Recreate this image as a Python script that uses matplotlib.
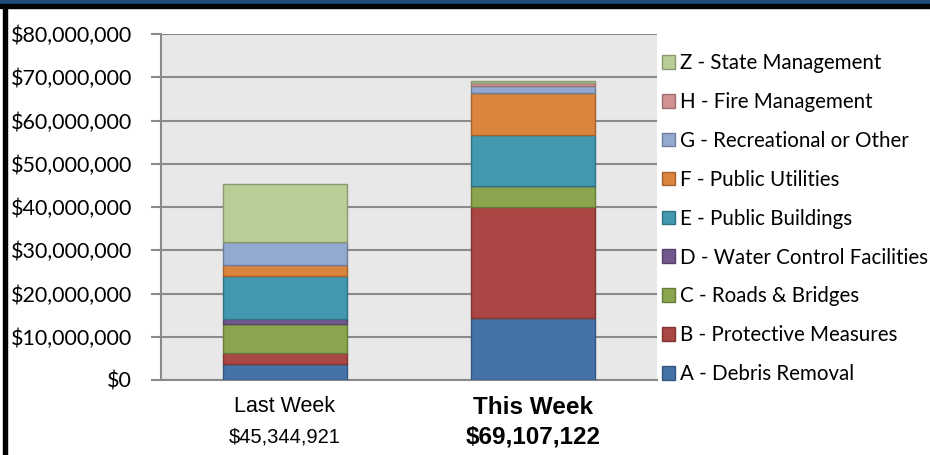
"""Stacked bar chart: project worksheet totals by category, last week vs this week"""

# Imports
import matplotlib
matplotlib.use("Agg")
import matplotlib.pyplot as plt
import matplotlib.colors as mcolors
from matplotlib.patches import Rectangle
from matplotlib.ticker import FuncFormatter, MultipleLocator

# Data (millions of dollars)
weeks = ["Last Week", "This Week"]
week_totals = ["$45,344,921", "$69,107,122"]
categories = ["A - Debris Removal", "B - Protective Measures", "C - Roads & Bridges",
              "D - Water Control Facilities", "E - Public Buildings", "F - Public Utilities",
              "G - Recreational or Other", "H - Fire Management", "Z - State Management"]
last_week = [3.7, 2.6, 6.6, 1.2, 9.9, 2.6, 5.4, 0.0, 13.3]
this_week = [14.4, 25.6, 4.9, 0.05, 11.8, 9.6, 1.7, 0.6, 0.5]
colors = ["#4572A7", "#AA4643", "#89A54E", "#71588F", "#4198AF",
          "#DB843D", "#93A9CF", "#D19392", "#B9CD96"]

# Fonts
TICK_FONT = "Lato"
LABEL_FONT = "Liberation Sans"


def darker(c, f=0.75):
    r, g, b = mcolors.to_rgb(c)
    return (r * f, g * f, b * f)


fig = plt.figure(figsize=(9.3, 4.55), dpi=100)
W, H = 930, 455
ax = fig.add_axes([161 / W, 1 - 380 / H, 496 / W, 346 / H])
ax.set_facecolor("#E8E8E8")

# Frame decorations
fig.patches.append(Rectangle((0, 451 / H), 1, 4 / H, transform=fig.transFigure,
                             color="#1F4A7C", zorder=0))
fig.patches.append(Rectangle((0, 447 / H), 1, 4 / H, transform=fig.transFigure,
                             color="black", zorder=0))
fig.patches.append(Rectangle((3 / W, 0), 4 / W, 447 / H, transform=fig.transFigure,
                             color="black", zorder=0))

# Stacked bars
x = [0, 1]
bottoms = [0.0, 0.0]
for i, cat in enumerate(categories):
    vals = [last_week[i] * 1e6, this_week[i] * 1e6]
    ax.bar(x, vals, width=0.5, bottom=bottoms, color=colors[i],
           edgecolor=darker(colors[i]), linewidth=1, label=cat, zorder=3)
    bottoms = [bottoms[0] + vals[0], bottoms[1] + vals[1]]

ax.set_xlim(-0.5, 1.5)
ax.set_ylim(0, 80e6)
ax.yaxis.set_major_locator(MultipleLocator(10e6))
ax.yaxis.set_major_formatter(FuncFormatter(lambda v, p: f"${v:,.0f}"))
ax.grid(axis="y", color="#8A8A8A", linewidth=1.5, zorder=1)
ax.set_axisbelow(True)
ax.set_xticks([])
ax.tick_params(axis="y", length=7, width=1.5, color="#8A8A8A", pad=14)
for label in ax.get_yticklabels():
    label.set_fontfamily(TICK_FONT)
    label.set_fontsize(15.5)
for side in ["top", "right"]:
    ax.spines[side].set_visible(False)
for side in ["left", "bottom"]:
    ax.spines[side].set_color("#8A8A8A")
    ax.spines[side].set_linewidth(1.5)

# Category labels under the bars
trans = ax.get_xaxis_transform()
ax.text(x[0], -27 / 346, weeks[0], transform=trans, ha="center", va="center",
        fontfamily=LABEL_FONT, fontsize=15.5)
ax.text(x[0], -57 / 346, week_totals[0], transform=trans, ha="center", va="center",
        fontfamily=LABEL_FONT, fontsize=14.5)
ax.text(x[1], -27 / 346, weeks[1], transform=trans, ha="center", va="center",
        fontfamily=LABEL_FONT, fontsize=17.5, fontweight="bold")
ax.text(x[1], -57 / 346, week_totals[1], transform=trans, ha="center", va="center",
        fontfamily=LABEL_FONT, fontsize=17.5, fontweight="bold")

# Legend, reversed so Z is on top
handles, labels = ax.get_legend_handles_labels()
ax.legend(handles[::-1], labels[::-1], loc="upper left",
          bbox_to_anchor=(662 / W, 1 - 53 / H), bbox_transform=fig.transFigure,
          frameon=False, prop={"family": TICK_FONT, "size": 14.8},
          handlelength=0.65, handleheight=0.65, handletextpad=0.25,
          labelspacing=0.92, borderaxespad=0, borderpad=0)

fig.savefig("out.png", dpi=100)
